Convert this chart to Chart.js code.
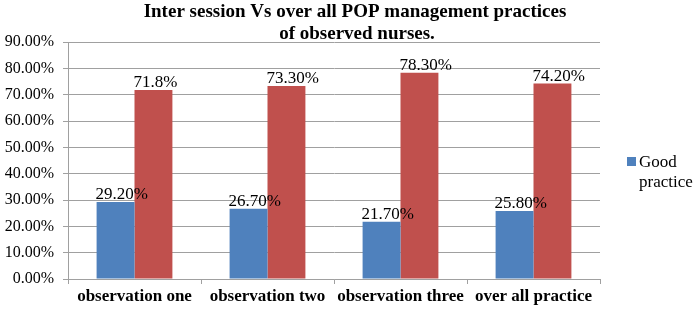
<!DOCTYPE html>
<html>
<head>
<meta charset="utf-8">
<script src="https://cdn.jsdelivr.net/npm/chart.js@4/dist/chart.umd.min.js"></script>
<style>
    html, body { margin: 0; padding: 0; background: #fff; }
    #wrap { width: 700px; height: 312px; }
</style>
</head>
<body>
<div id="wrap"><canvas id="chart" width="700" height="312"></canvas></div>
<script>
const titleLines = ['Inter session Vs over all POP management practices', 'of observed nurses.'];
const categories = ['observation one', 'observation two', 'observation three', 'over all practice'];
const goodPractice = [29.2, 26.7, 21.7, 25.8];
const otherPractice = [71.8, 73.3, 78.3, 74.2];
const goodLabels = ['29.20%', '26.70%', '21.70%', '25.80%'];
const otherLabels = ['71.8%', '73.30%', '78.30%', '74.20%'];
const legendLines = ['Good', 'practice'];

const serif = '"Liberation Serif", "Times New Roman", serif';
const BLUE = '#4f81bd';
const RED = '#c0504d';

// title, value labels and the two-line legend are drawn by hand
const extras = {
    id: 'extras',
    afterDatasetsDraw(chart) {
        const c = chart.ctx;
        c.save();
        c.fillStyle = '#000';
        c.textAlign = 'left';
        c.textBaseline = 'alphabetic';
        c.font = '17px ' + serif;
        const labelSets = [goodLabels, otherLabels];
        chart.data.datasets.forEach((ds, i) => {
            chart.getDatasetMeta(i).data.forEach((bar, j) => {
                const left = bar.x - bar.width / 2;
                c.fillText(labelSets[i][j], left - 1, bar.y - 3);
            });
        });

        c.textAlign = 'center';
        c.font = 'bold 19px ' + serif;
        c.fillText(titleLines[0], 355, 17);
        c.fillText(titleLines[1], 357, 39);

        c.fillStyle = BLUE;
        c.fillRect(627, 157, 9, 9);
        c.fillStyle = '#000';
        c.textAlign = 'left';
        c.font = '17px ' + serif;
        c.fillText(legendLines[0], 639, 167);
        c.fillText(legendLines[1], 639, 187);
        c.restore();
    }
};

const ctx = document.getElementById('chart').getContext('2d');
new Chart(ctx, {
    type: 'bar',
    data: {
        labels: categories,
        datasets: [
            {
                label: 'Good practice',
                data: goodPractice,
                backgroundColor: BLUE,
                categoryPercentage: 0.57,
                barPercentage: 1.0,
            },
            {
                label: 'Poor practice',
                data: otherPractice,
                backgroundColor: RED,
                categoryPercentage: 0.57,
                barPercentage: 1.0,
            }
        ]
    },
    options: {
        responsive: false,
        animation: false,
        layout: {
            padding: { left: 0, right: 100, top: 42, bottom: 0 }
        },
        plugins: {
            legend: { display: false },
            title: { display: false },
            tooltip: { enabled: false }
        },
        scales: {
            y: {
                min: 0,
                max: 90,
                afterFit: (scale) => { scale.width = 68; },
                ticks: {
                    stepSize: 10,
                    color: '#000',
                    padding: 9,
                    font: { family: serif, size: 16 },
                    callback: (v) => v.toFixed(2) + '%'
                },
                grid: { color: '#a0a0a0', lineWidth: 1, drawTicks: true, tickLength: 5 },
                border: { color: '#a0a0a0' }
            },
            x: {
                afterFit: (scale) => { scale.height = 33; },
                ticks: {
                    color: '#000',
                    padding: 2,
                    font: { family: serif, size: 17, weight: 'bold' }
                },
                grid: { drawOnChartArea: false, color: '#a0a0a0', tickLength: 5 },
                border: { color: '#a0a0a0' }
            }
        }
    },
    plugins: [extras]
});
</script>
</body>
</html>
